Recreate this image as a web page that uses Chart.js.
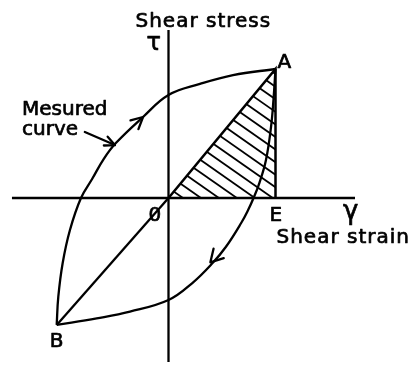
<!DOCTYPE html>
<html>
<head>
<meta charset="utf-8">
<script src="https://cdn.jsdelivr.net/npm/chart.js@4/dist/chart.umd.min.js"></script>
<style>
  html, body { margin: 0; padding: 0; background: #fff; }
  canvas { display: block; }
</style>
</head>
<body>
<canvas id="loop" width="416" height="368"></canvas>
<script>
// Shear stress / shear strain hysteresis loop, normalised so that the peak A sits at (1, 1).
const loadingStrain   = [-1.045, -1.030, -0.989, -0.921, -0.818, -0.714, -0.606, -0.492, -0.238, 0.000, 0.294, 0.603, 1.000];
const loadingStress   = [-0.984, -0.767, -0.504, -0.248, 0.000, 0.147, 0.302, 0.426, 0.628, 0.798, 0.884, 0.953, 1.000];
const unloadingStrain = [1.000, 0.981, 0.958, 0.911, 0.849, 0.795, 0.744, 0.679, 0.537, 0.410, 0.220, 0.000, -0.360, -0.671, -1.045];
const unloadingStress = [1.000, 0.760, 0.550, 0.295, 0.116, 0.000, -0.093, -0.194, -0.378, -0.506, -0.661, -0.791, -0.881, -0.933, -0.984];
const peakA  = [1.000, 1.000];
const peakB  = [-1.045, -0.984];
const pointE = [1.000, 0.000];
const origin = [0, 0];
const strainAxisSpan = [-1.463, 1.743];
const stressAxisSpan = [-1.271, 1.302];

const toPoints = (xs, ys) => xs.map((x, i) => ({ x, y: ys[i] }));
const pt = (p) => ({ x: p[0], y: p[1] });

const FONT_FAMILY = '"DejaVu Sans"';
const LINE_W = 2.3;

function arrowHead(ctx, tip, dir, len, spread) {
  const back = Math.atan2(-dir.y, -dir.x);
  ctx.beginPath();
  ctx.moveTo(tip.x + len * Math.cos(back + spread), tip.y + len * Math.sin(back + spread));
  ctx.lineTo(tip.x, tip.y);
  ctx.lineTo(tip.x + len * Math.cos(back - spread), tip.y + len * Math.sin(back - spread));
  ctx.stroke();
}

function label(ctx, text, x, y, size) {
  ctx.font = size + 'px ' + FONT_FAMILY;
  ctx.fillText(text, x, y);
  ctx.strokeText(text, x, y);
}

// Hatching of the triangle O-A-E, clipped to the outline of dataset 2
const hatching = {
  id: 'hatching',
  beforeDatasetsDraw(chart) {
    const pts = chart.getDatasetMeta(2).data;
    const { ctx, chartArea } = chart;
    ctx.save();
    ctx.beginPath();
    ctx.moveTo(pts[0].x, pts[0].y);
    for (let i = 1; i < pts.length; i++) ctx.lineTo(pts[i].x, pts[i].y);
    ctx.closePath();
    ctx.clip();
    ctx.strokeStyle = '#000';
    ctx.lineWidth = 1.8;
    const ang = 35 * Math.PI / 180;
    const d = { x: Math.cos(ang), y: Math.sin(ang) };
    const n = { x: -Math.sin(ang), y: Math.cos(ang) };
    const gap = 10.3;
    const base = { x: pts[0].x + 14.5, y: pts[0].y };
    const L = chartArea.width + chartArea.height;
    for (let k = -40; k <= 40; k++) {
      const cx = base.x + n.x * gap * k, cy = base.y + n.y * gap * k;
      ctx.beginPath();
      ctx.moveTo(cx - d.x * L, cy - d.y * L);
      ctx.lineTo(cx + d.x * L, cy + d.y * L);
      ctx.stroke();
    }
    ctx.restore();
  }
};

const annotations = {
  id: 'annotations',
  afterDatasetsDraw(chart) {
    const { ctx, scales: { x, y } } = chart;
    const px = (p) => ({ x: x.getPixelForValue(p[0]), y: y.getPixelForValue(p[1]) });
    const O = px(origin), A = px(peakA), B = px(peakB), E = px(pointE);
    ctx.save();
    ctx.strokeStyle = '#000';
    ctx.fillStyle = '#000';
    ctx.lineWidth = LINE_W;
    ctx.lineCap = 'round';
    ctx.lineJoin = 'round';

    // direction arrows on the loop
    const up = chart.getDatasetMeta(4).data;
    const dn = chart.getDatasetMeta(5).data;
    arrowHead(ctx, { x: up[8].x, y: up[8].y }, { x: up[9].x - up[7].x, y: up[9].y - up[7].y }, 13, 0.47);
    arrowHead(ctx, { x: dn[9].x - 2, y: dn[9].y - 1 }, { x: dn[10].x - dn[8].x, y: dn[10].y - dn[8].y }, 14, 0.52);

    // leader from the label to the curve
    const tip = { x: up[7].x - 1, y: up[7].y + 2 };
    const tail = { x: tip.x - 30, y: tip.y - 13 };
    ctx.beginPath(); ctx.moveTo(tail.x, tail.y); ctx.lineTo(tip.x, tip.y); ctx.stroke();
    arrowHead(ctx, tip, { x: tip.x - tail.x, y: tip.y - tail.y }, 11, 0.45);

    // text
    ctx.lineWidth = 0.7;
    ctx.textBaseline = 'alphabetic';
    ctx.textAlign = 'left';
    ctx.letterSpacing = '1px';
    label(ctx, 'Shear stress', O.x - 33, 27, 20);
    label(ctx, 'Shear strain', E.x + 1, O.y + 45, 20);
    ctx.letterSpacing = '0px';
    label(ctx, 'τ', O.x - 22, 50, 24);
    label(ctx, 'A', A.x + 2, A.y - 1, 20);
    label(ctx, 'Mesured', 22, 115, 20);
    label(ctx, 'curve', 22, 135, 20);
    label(ctx, '0', O.x - 20, O.y + 23, 20);
    label(ctx, 'E', E.x - 6, O.y + 23, 20);
    label(ctx, 'γ', 343, O.y + 21, 26);
    label(ctx, 'B', B.x - 7, B.y + 22, 20);
    ctx.restore();
  }
};

const black = '#000';
new Chart(document.getElementById('loop'), {
  type: 'scatter',
  data: {
    datasets: [
      { // strain axis
        data: [{ x: strainAxisSpan[0], y: 0 }, { x: strainAxisSpan[1], y: 0 }],
        showLine: true, borderColor: black, borderWidth: LINE_W, pointRadius: 0
      },
      { // stress axis
        data: [{ x: 0, y: stressAxisSpan[0] }, { x: 0, y: stressAxisSpan[1] }],
        showLine: true, borderColor: black, borderWidth: LINE_W, pointRadius: 0
      },
      { // triangle O-A-E (hatched by the plugin)
        data: [pt(origin), pt(peakA), pt(pointE)],
        showLine: true, borderColor: black, borderWidth: 2.5, pointRadius: 0
      },
      { // secant B-O
        data: [pt(peakB), pt(origin)],
        showLine: true, borderColor: black, borderWidth: LINE_W, pointRadius: 0
      },
      { // loading branch B -> A
        data: toPoints(loadingStrain, loadingStress),
        showLine: true, borderColor: black, borderWidth: LINE_W, pointRadius: 0, tension: 0.4
      },
      { // unloading branch A -> B
        data: toPoints(unloadingStrain, unloadingStress),
        showLine: true, borderColor: black, borderWidth: LINE_W, pointRadius: 0, tension: 0.4
      }
    ]
  },
  options: {
    responsive: false,
    animation: false,
    layout: { padding: 0 },
    plugins: { legend: { display: false }, tooltip: { enabled: false } },
    scales: {
      x: { type: 'linear', display: false, min: -1.5748, max: 2.3131 },
      y: { type: 'linear', display: false, min: -1.3178, max: 1.5349 }
    }
  },
  plugins: [hatching, annotations]
});
</script>
</body>
</html>
